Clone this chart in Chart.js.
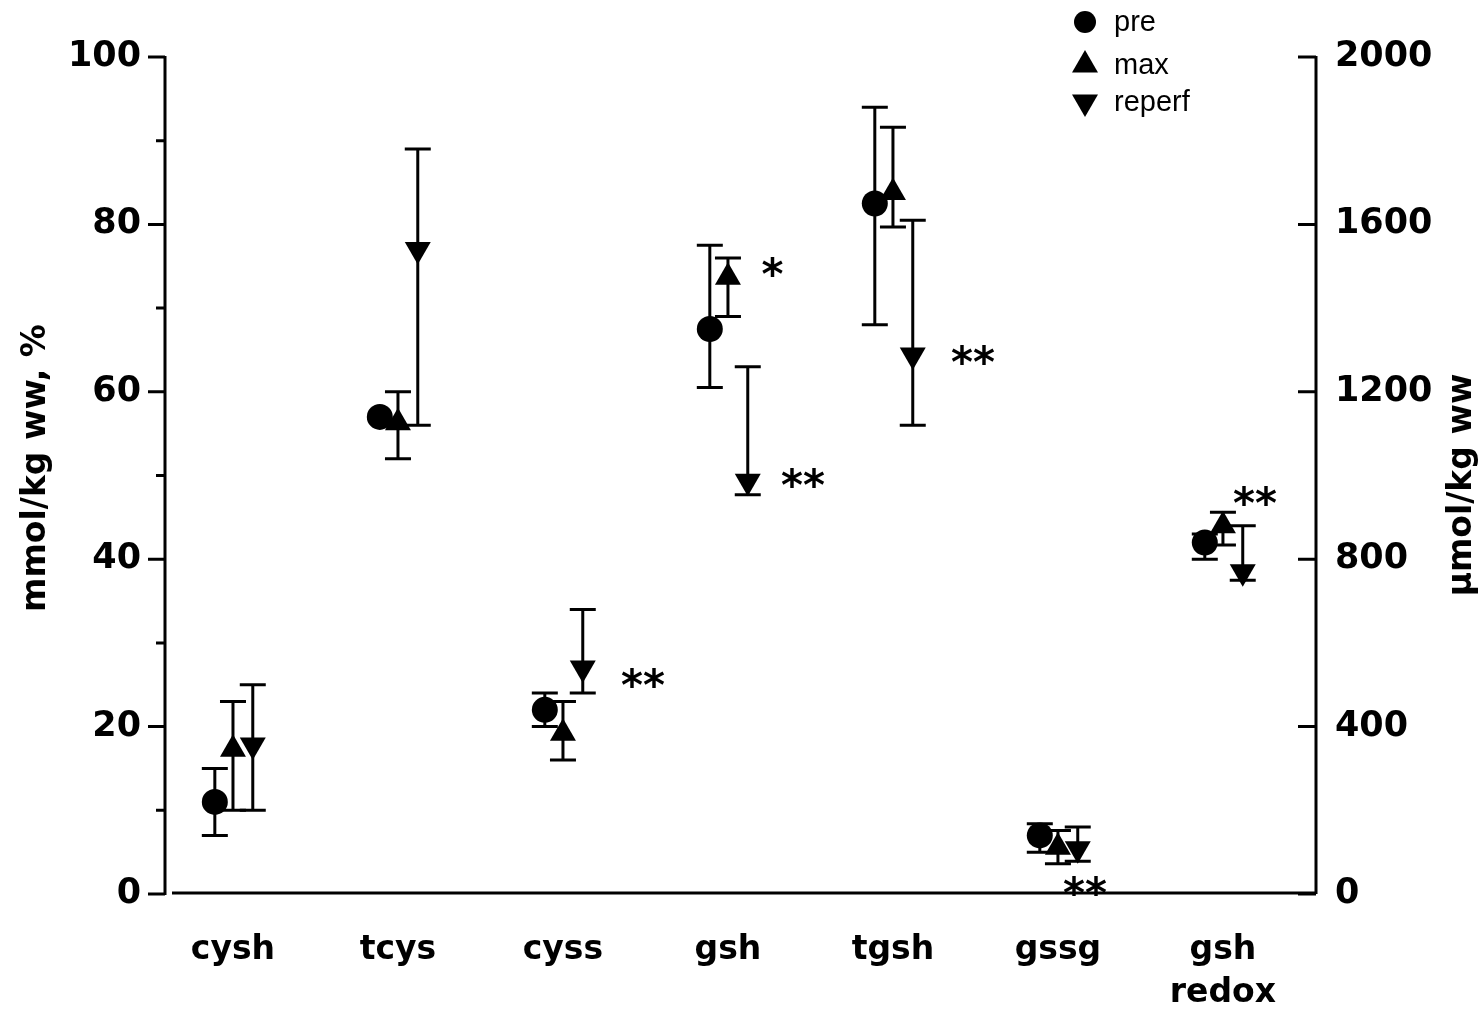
<!DOCTYPE html>
<html>
<head>
<meta charset="utf-8">
<script src="https://cdn.jsdelivr.net/npm/chart.js@4.4.1/dist/chart.umd.min.js"></script>
<style>
html, body { margin: 0; padding: 0; background: #fff; }
#wrap { width: 1478px; height: 1013px; }
</style>
</head>
<body>
<div id="wrap"><canvas id="chart" width="1478" height="1013"></canvas></div>
<script>
// categories along the bottom
var categories = ["cysh", "tcys", "cyss", "gsh", "tgsh", "gssg", ["gsh", "redox"]];

// means and error bar ends (left axis units)
var preMean  = [11,   57,   22,   67.5, 82.5, 7,    42];
var preLow   = [7,    null, 20,   60.5, 68,   5,    40];
var preHigh  = [15,   null, 24,   77.5, 94,   8.4,  43];

var maxMean  = [17.3, 56.3, 19.2, 73.7, 83.8, 5.6,  44];
var maxLow   = [10,   52,   16,   69,   79.7, 3.6,  41.7];
var maxHigh  = [23,   60,   23,   76,   91.6, 7.6,  45.6];

var repMean  = [17.8, 77,   27,   49.3, 64.4, 5.4,  38.5];
var repLow   = [10,   56,   24,   47.7, 56,   3.9,  37.5];
var repHigh  = [25,   89,   34,   63,   80.5, 8,    44];

// significance marks (x in category units, y in left axis units)
var sigX    = [2.485, 3.27, 3.455, 4.485, 5.164, 6.194];
var sigY    = [25.8,  74.9, 49.7,  64.4,  0.96,  47.6];
var sigText = ["**",  "*",  "**",  "**",  "**",  "**"];

var leftTicks = [0, 20, 40, 60, 80, 100];
var leftMinor = [10, 30, 50, 70, 90];
var rightTicks = [0, 400, 800, 1200, 1600, 2000];

var offsets = [-0.11, 0, 0.12];

function pts(mean, off) {
  return mean.map(function(v, i) { return { x: i + off, y: v }; });
}

var boldFont = "'DejaVu Sans'";

var series = [
  { label: "pre",    mean: preMean, low: preLow, high: preHigh, style: "circle",   radius: 13, rot: 0 },
  { label: "max",    mean: maxMean, low: maxLow, high: maxHigh, style: "triangle", radius: 15, rot: 0 },
  { label: "reperf", mean: repMean, low: repLow, high: repHigh, style: "triangle", radius: 15, rot: 180 }
];

var decor = {
  id: "decor",
  beforeDatasetsDraw: function(chart) {
    var ctx = chart.ctx, xs = chart.scales.x, ys = chart.scales.y;
    ctx.save();
    ctx.strokeStyle = "#000";
    ctx.lineWidth = 3;
    series.forEach(function(s, k) {
      s.mean.forEach(function(v, i) {
        if (s.low[i] == null) return;
        var px = xs.getPixelForValue(i + offsets[k]);
        var lo = ys.getPixelForValue(s.low[i]);
        var hi = ys.getPixelForValue(s.high[i]);
        ctx.beginPath();
        ctx.moveTo(px, lo); ctx.lineTo(px, hi);
        ctx.moveTo(px - 13, lo); ctx.lineTo(px + 13, lo);
        ctx.moveTo(px - 13, hi); ctx.lineTo(px + 13, hi);
        ctx.stroke();
      });
    });
    ctx.restore();
  },
  afterDraw: function(chart) {
    var ctx = chart.ctx, a = chart.chartArea;
    var ys = chart.scales.y, y2 = chart.scales.y2, xs = chart.scales.x;
    ctx.save();
    ctx.strokeStyle = "#000";
    ctx.fillStyle = "#000";
    ctx.lineWidth = 3;
    // axis lines
    ctx.beginPath();
    ctx.moveTo(a.left, a.top - 1); ctx.lineTo(a.left, a.bottom + 1);
    ctx.moveTo(a.left + 7, a.bottom - 1); ctx.lineTo(a.right, a.bottom - 1);
    ctx.moveTo(a.right, a.top - 1); ctx.lineTo(a.right, a.bottom);
    leftTicks.forEach(function(v) {
      var p = ys.getPixelForValue(v);
      ctx.moveTo(a.left - 17, p); ctx.lineTo(a.left, p);
    });
    leftMinor.forEach(function(v) {
      var p = ys.getPixelForValue(v);
      ctx.moveTo(a.left - 9, p); ctx.lineTo(a.left, p);
    });
    rightTicks.forEach(function(v) {
      var p = y2.getPixelForValue(v);
      ctx.moveTo(a.right - 18, p); ctx.lineTo(a.right, p);
    });
    ctx.stroke();

    // axis titles
    ctx.font = "bold 33px " + boldFont;
    ctx.textAlign = "center";
    ctx.textBaseline = "middle";
    ctx.save();
    ctx.translate(36, 468);
    ctx.rotate(-Math.PI / 2);
    ctx.fillText("mmol/kg ww, %", 0, 0);
    ctx.restore();
    ctx.save();
    ctx.translate(1462, 485);
    ctx.rotate(-Math.PI / 2);
    ctx.fillText("\u00b5mol/kg ww", 0, 0);
    ctx.restore();

    // significance marks
    ctx.font = "bold 42px " + boldFont;
    ctx.textBaseline = "alphabetic";
    sigText.forEach(function(t, i) {
      ctx.fillText(t, xs.getPixelForValue(sigX[i]), ys.getPixelForValue(sigY[i]) + 22);
    });

    // legend
    var ly = [22, 65, 102];
    ctx.font = "29px 'Liberation Sans'";
    ctx.textAlign = "left";
    ctx.textBaseline = "middle";
    series.forEach(function(s, k) {
      Chart.helpers.drawPoint(ctx, {
        pointStyle: s.style, radius: s.style === "circle" ? 11 : 15,
        rotation: s.rot, borderWidth: 0
      }, 1085, ly[k]);
      ctx.fillText(s.label, 1114, ly[k] + 1);
    });
    ctx.restore();
  }
};

var tickFont = { family: boldFont, weight: "bold", size: 35 };

new Chart(document.getElementById("chart"), {
  type: "scatter",
  data: {
    datasets: series.map(function(s, k) {
      return {
        label: s.label,
        data: pts(s.mean, offsets[k]),
        pointStyle: s.style,
        pointRadius: s.radius,
        pointRotation: s.rot,
        backgroundColor: "#000",
        borderColor: "#000",
        borderWidth: 0,
        yAxisID: "y"
      };
    })
  },
  options: {
    responsive: false,
    animation: false,
    events: [],
    layout: { padding: { top: 57, left: 0, right: 0, bottom: 0 } },
    plugins: { legend: { display: false }, tooltip: { enabled: false } },
    scales: {
      x: {
        type: "linear", position: "bottom", min: -0.412, max: 6.564,
        afterBuildTicks: function(s) { s.ticks = categories.map(function(c, i) { return { value: i }; }); },
        afterFit: function(s) { s.height = 119; },
        grid: { display: false, drawTicks: false },
        border: { display: false },
        ticks: {
          autoSkip: false, maxRotation: 0, minRotation: 0, padding: 35, color: "#000",
          font: { family: boldFont, weight: "bold", size: 33, lineHeight: 1.3 },
          callback: function(v) { return categories[v]; }
        }
      },
      y: {
        position: "left", min: 0, max: 100,
        afterFit: function(s) { s.width = 165; },
        grid: { display: false, drawTicks: false },
        border: { display: false },
        ticks: { stepSize: 20, padding: 24, color: "#000", font: tickFont,
                 callback: function(v) { return String(v); } }
      },
      y2: {
        position: "right", min: 0, max: 2000,
        afterFit: function(s) { s.width = 162; },
        grid: { display: false, drawTicks: false },
        border: { display: false },
        ticks: { stepSize: 400, padding: 19, color: "#000", font: tickFont,
                 callback: function(v) { return String(v); } }
      }
    }
  },
  plugins: [decor]
});
</script>
</body>
</html>
